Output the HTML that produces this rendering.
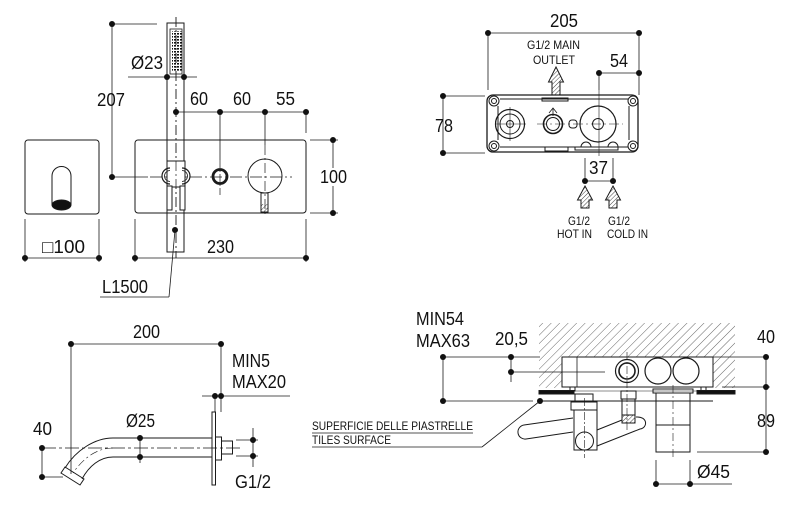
<!DOCTYPE html>
<html><head><meta charset="utf-8"><style>
html,body{margin:0;padding:0;background:#fff;}
svg{display:block;}
text{font-family:"Liberation Sans",Arial,sans-serif;fill:#111;}
</style></head><body>
<svg width="798" height="528" viewBox="0 0 798 528" xmlns="http://www.w3.org/2000/svg">
<defs>
<pattern id="h" width="3" height="3" patternUnits="userSpaceOnUse" patternTransform="rotate(45)">
<line x1="0" y1="0" x2="0" y2="3" stroke="#444" stroke-width="1"/>
</pattern>
<pattern id="w" width="6" height="6" patternUnits="userSpaceOnUse" patternTransform="rotate(45)">
<line x1="0" y1="0" x2="0" y2="6" stroke="#555" stroke-width="0.9"/>
</pattern>
<pattern id="g" width="3" height="3" patternUnits="userSpaceOnUse">
<rect x="0" y="0" width="2" height="1.6" fill="#111"/>
</pattern>
</defs>

<g fill="none" stroke="#1a1a1a" stroke-width="1">
<rect x="25" y="140" width="74" height="74" rx="3"/>
<path d="M52,205 L52,176 A9.5,9.5 0 0 1 71,176 L71,205"/>
<ellipse cx="61.5" cy="205" rx="9.5" ry="5" fill="#111"/>
<line x1="25" y1="219" x2="25" y2="262" stroke-width="0.8"/>
<line x1="99" y1="219" x2="99" y2="262" stroke-width="0.8"/>
<line x1="25" y1="258" x2="99" y2="258" stroke-width="0.8"/>

<rect x="135" y="140" width="171" height="73" rx="3"/>
<line x1="135" y1="219" x2="135" y2="262" stroke-width="0.8"/>
<line x1="306" y1="219" x2="306" y2="262" stroke-width="0.8"/>
<line x1="135" y1="258" x2="306" y2="258" stroke-width="0.8"/>

<line x1="112" y1="24" x2="112" y2="177" stroke-width="0.8"/>
<line x1="112" y1="24" x2="157" y2="24" stroke-width="0.8"/>
<line x1="112" y1="177" x2="148" y2="177" stroke-width="0.8"/>
<line x1="150" y1="177" x2="292" y2="177" stroke-width="0.7" stroke-dasharray="12 3 2 3"/>

<rect x="167" y="23" width="17" height="229"/>
<rect x="170" y="29" width="12" height="45" stroke-width="0.8"/>
<rect x="172" y="31" width="10" height="41" fill="url(#g)" stroke="none"/>
<line x1="176" y1="17" x2="176" y2="258" stroke-width="0.7" stroke-dasharray="10 3 2 3"/>
<line x1="128" y1="77" x2="197" y2="77" stroke-width="0.8"/>

<rect x="167" y="161" width="18" height="26" fill="#fff"/>
<path d="M170,168 A8,8 0 0 0 170,184" stroke-width="1.2"/>
<path d="M170,170.5 A5.5,5.5 0 0 0 170,181.5" stroke-width="0.8"/>
<path d="M182,168 A8,8 0 0 1 182,184" stroke-width="1.2"/>
<path d="M182,170.5 A5.5,5.5 0 0 1 182,181.5" stroke-width="0.8"/>
<rect x="167" y="186" width="5" height="24" fill="#fff"/>
<rect x="180" y="186" width="5" height="24" fill="#fff"/>
<line x1="176" y1="17" x2="176" y2="258" stroke-width="0.7" stroke-dasharray="10 3 2 3"/>

<line x1="176" y1="112" x2="306" y2="112" stroke-width="0.8"/>
<line x1="220" y1="112" x2="220" y2="160" stroke-width="0.8"/>
<line x1="265" y1="112" x2="265" y2="145" stroke-width="0.8"/>
<line x1="306" y1="112" x2="306" y2="133" stroke-width="0.8"/>

<circle cx="220" cy="176.5" r="7" stroke-width="2.8"/>
<line x1="220" y1="160" x2="220" y2="195" stroke-width="0.7" stroke-dasharray="8 2 2 2"/>
<circle cx="265" cy="176" r="17"/>
<rect x="261" y="193" width="7" height="19"/>
<rect x="261.5" y="204" width="6" height="8" fill="url(#h)" stroke="none"/>
<line x1="265" y1="145" x2="265" y2="217" stroke-width="0.7" stroke-dasharray="10 3 2 3"/>

<line x1="310" y1="140" x2="338" y2="140" stroke-width="0.8"/>
<line x1="310" y1="213" x2="338" y2="213" stroke-width="0.8"/>
<line x1="333" y1="140" x2="333" y2="213" stroke-width="0.8"/>

<line x1="175" y1="230" x2="169" y2="297" stroke-width="0.8"/>
<line x1="100" y1="297" x2="169" y2="297" stroke-width="0.8"/>

<line x1="488" y1="33" x2="639" y2="33" stroke-width="0.8"/>
<line x1="488" y1="33" x2="488" y2="90" stroke-width="0.8"/>
<line x1="639" y1="33" x2="639" y2="95" stroke-width="0.8"/>
<line x1="599" y1="73" x2="639" y2="73" stroke-width="0.8"/>
<line x1="599" y1="73" x2="599" y2="90" stroke-width="0.8"/>
<line x1="443" y1="96" x2="443" y2="153" stroke-width="0.8"/>
<line x1="443" y1="96" x2="485" y2="96" stroke-width="0.8"/>
<line x1="443" y1="153" x2="485" y2="153" stroke-width="0.8"/>

<rect x="487" y="95" width="151" height="57" rx="6" stroke-width="1.3"/>
<path d="M500,99 H628 M500,147 H628 M498,106 V140 M629,106 V140" stroke-width="1"/>
<circle cx="494" cy="101" r="5"/><circle cx="494" cy="101" r="2.5"/>
<circle cx="633" cy="101" r="5"/><circle cx="633" cy="101" r="2.5"/>
<circle cx="494" cy="146" r="5"/><circle cx="494" cy="146" r="2.5"/>
<circle cx="633" cy="146" r="5"/><circle cx="633" cy="146" r="2.5"/>
<rect x="542" y="98" width="26" height="3"/>
<rect x="545" y="147" width="23" height="4"/>
<rect x="575" y="147" width="43" height="3"/>
<circle cx="510" cy="124" r="14.5" stroke-width="1.2"/>
<circle cx="510" cy="124" r="10"/>
<circle cx="510" cy="124" r="3.5"/>
<path d="M499,114 A16,16 0 0 0 499,134" stroke-width="1"/>
<line x1="510" y1="107" x2="510" y2="141" stroke-width="0.6"/>
<line x1="495" y1="124" x2="526" y2="124" stroke-width="0.6"/>
<circle cx="553" cy="124" r="9.5" stroke-width="1.6"/>
<circle cx="553" cy="124" r="6.5"/>
<path d="M549,113 L553,108 L557,113 M553,108 V116" stroke-width="0.8"/>
<rect x="569" y="120" width="8" height="8" rx="3"/>
<circle cx="598" cy="124" r="18" stroke-width="1.2"/>
<circle cx="598" cy="124" r="5.5"/>
<path d="M581,147 A5,5 0 0 1 591,147 M608,147 A5,5 0 0 1 618,147" stroke-width="1"/>
<line x1="537" y1="124" x2="623" y2="124" stroke-width="0.6" stroke-dasharray="10 3 2 3"/>
<line x1="599" y1="90" x2="599" y2="156" stroke-width="0.6"/>
<path d="M556,67 L563.5,82 L560,82 L560,95 L552,95 L552,82 L548.5,82 Z" fill="url(#h)"/>
<path d="M585,186 L592.5,200 L589,200 L589,208 L581,208 L581,200 L577.5,200 Z" fill="url(#h)"/>
<path d="M613,186 L620.5,200 L617,200 L617,208 L609,208 L609,200 L605.5,200 Z" fill="url(#h)"/>
<line x1="585" y1="181" x2="613" y2="181" stroke-width="0.8"/>
<line x1="585" y1="158" x2="585" y2="181" stroke-width="0.8"/>
<line x1="613" y1="158" x2="613" y2="181" stroke-width="0.8"/>

<line x1="71" y1="344" x2="221" y2="344" stroke-width="0.8"/>
<line x1="71" y1="344" x2="71" y2="474" stroke-width="0.8"/>
<line x1="221" y1="344" x2="221" y2="412" stroke-width="0.8"/>
<line x1="202" y1="396" x2="290" y2="396" stroke-width="0.8"/>
<line x1="215" y1="396" x2="215" y2="412" stroke-width="0.8"/>
<rect x="212" y="412" width="3.5" height="73"/>
<rect x="215.5" y="437" width="6" height="23"/>
<rect x="221.5" y="441" width="11" height="13"/>
<line x1="113" y1="438" x2="212" y2="438"/>
<line x1="113" y1="457" x2="212" y2="457"/>
<path d="M113,438 C95,438 76,450 65,468"/>
<path d="M113,457 C100,457 89,466 82,479"/>
<path d="M65,467 L84,479 L80,485 L61,473 Z"/>
<line x1="42" y1="448" x2="240" y2="448" stroke-width="0.7" stroke-dasharray="14 3 3 3"/>
<path d="M113,448 C98,448 84,457 73,473" stroke-width="0.6" stroke-dasharray="8 3 2 3"/>
<line x1="140" y1="435" x2="140" y2="463" stroke-width="0.8"/>
<line x1="42" y1="448" x2="42" y2="477" stroke-width="0.8"/>
<line x1="42" y1="477" x2="63" y2="477" stroke-width="0.8"/>
<line x1="253" y1="428" x2="253" y2="467" stroke-width="0.8"/>
<line x1="236" y1="440" x2="258" y2="440" stroke-width="0.8"/>
<line x1="236" y1="456" x2="258" y2="456" stroke-width="0.8"/>

<path d="M539,323 H735 V388 H539 Z M562,357 H713 V388 H562 Z" fill="url(#w)" fill-rule="evenodd" stroke="none"/>
<rect x="562" y="357" width="151" height="30" fill="#fff"/>
<line x1="577" y1="357" x2="577" y2="387" stroke-width="0.8"/>
<circle cx="627" cy="371" r="11.5" stroke-width="1.2"/>
<circle cx="627" cy="371" r="8" stroke-width="1.6"/>
<circle cx="658" cy="371" r="13" stroke-width="1.2"/>
<circle cx="686" cy="371" r="13" stroke-width="1.2"/>
<rect x="570" y="387" width="5" height="4"/>
<rect x="701" y="387" width="5" height="4"/>
<rect x="539" y="390.5" width="35" height="3.5" fill="#111"/>
<rect x="697" y="390.5" width="38" height="3.5" fill="#111"/>
<line x1="574" y1="391" x2="697" y2="391" stroke-width="0.6"/>
<line x1="539" y1="401" x2="713" y2="401" stroke-width="0.9"/>
<line x1="443" y1="357" x2="443" y2="401" stroke-width="0.8"/>
<line x1="443" y1="357" x2="540" y2="357" stroke-width="0.8"/>
<line x1="443" y1="401" x2="533" y2="401" stroke-width="0.8"/>
<line x1="511" y1="357" x2="511" y2="382" stroke-width="0.8"/>
<line x1="511" y1="372" x2="605" y2="372" stroke-width="0.8"/>
<line x1="766" y1="357" x2="766" y2="452" stroke-width="0.8"/>
<line x1="712" y1="357" x2="766" y2="357" stroke-width="0.8"/>
<line x1="722" y1="387" x2="770" y2="387" stroke-width="0.8"/>
<line x1="697" y1="452" x2="766" y2="452" stroke-width="0.8"/>
<rect x="575" y="394" width="18" height="7"/>
<rect x="571" y="402" width="26" height="8"/>
<path d="M573,418 L524,425 A7,7 0 0 0 526,439 L573,432"/>
<path d="M597,430 L622,420 M636,417 C648,416 648,428 640,429 L597,446"/>
<rect x="574" y="410" width="23" height="40" fill="#fff"/>
<circle cx="584.5" cy="441" r="9"/>
<line x1="584.5" y1="398" x2="584.5" y2="458" stroke-width="0.6" stroke-dasharray="8 2 2 2"/>
<rect x="621" y="391" width="15" height="8"/>
<rect x="622" y="399" width="13" height="16"/>
<rect x="622" y="415" width="13" height="8" fill="url(#h)"/>
<line x1="627" y1="352" x2="627" y2="430" stroke-width="0.6" stroke-dasharray="8 2 2 2"/>
<rect x="653" y="389" width="40" height="4"/>
<rect x="656" y="393" width="34" height="32"/>
<rect x="656" y="425" width="34" height="27"/>
<line x1="673" y1="385" x2="673" y2="460" stroke-width="0.6" stroke-dasharray="8 3 2 3"/>
<line x1="656" y1="484" x2="732" y2="484" stroke-width="0.8"/>
<line x1="656" y1="460" x2="656" y2="484" stroke-width="0.8"/>
<line x1="690" y1="460" x2="690" y2="484" stroke-width="0.8"/>
<line x1="540" y1="401" x2="482" y2="447" stroke-width="0.8"/>
<line x1="312" y1="447" x2="482" y2="447" stroke-width="0.8"/>
<line x1="312" y1="433" x2="473" y2="433" stroke-width="0.8"/>
</g>

<g fill="#111">
<circle cx="112" cy="24" r="3"/><circle cx="112" cy="177" r="3"/>
<circle cx="167" cy="77" r="3"/><circle cx="184" cy="77" r="3"/>
<circle cx="176" cy="112" r="3"/><circle cx="220" cy="112" r="3"/><circle cx="265" cy="112" r="3"/><circle cx="306" cy="112" r="3"/>
<circle cx="333" cy="140" r="3"/><circle cx="333" cy="213" r="3"/>
<circle cx="25" cy="258" r="3"/><circle cx="99" cy="258" r="3"/>
<circle cx="135" cy="258" r="3"/><circle cx="306" cy="258" r="3"/>
<circle cx="175" cy="230" r="3"/>
<circle cx="488" cy="33" r="3"/><circle cx="639" cy="33" r="3"/>
<circle cx="599" cy="73" r="3"/><circle cx="639" cy="73" r="3"/>
<circle cx="443" cy="96" r="3"/><circle cx="443" cy="153" r="3"/>
<circle cx="585" cy="181" r="3"/><circle cx="613" cy="181" r="3"/>
<circle cx="71" cy="344" r="3"/><circle cx="221" cy="344" r="3"/>
<circle cx="215" cy="396" r="3"/><circle cx="221" cy="396" r="3"/>
<circle cx="140" cy="438" r="3"/><circle cx="140" cy="457" r="3"/>
<circle cx="42" cy="448" r="3"/><circle cx="42" cy="477" r="3"/>
<circle cx="253" cy="440" r="3"/><circle cx="253" cy="456" r="3"/>
<circle cx="443" cy="357" r="3"/><circle cx="443" cy="401" r="3"/>
<circle cx="511" cy="357" r="3"/><circle cx="511" cy="372" r="3"/>
<circle cx="766" cy="357" r="3"/><circle cx="766" cy="387" r="3"/><circle cx="766" cy="452" r="3"/>
<circle cx="656" cy="484" r="3"/><circle cx="690" cy="484" r="3"/>
<circle cx="540" cy="401" r="3"/>
</g>

<g font-size="18">
<text x="97" y="106" textLength="28" lengthAdjust="spacingAndGlyphs">207</text>
<text x="131" y="69" textLength="32" lengthAdjust="spacingAndGlyphs">Ø23</text>
<text x="190" y="105" textLength="18" lengthAdjust="spacingAndGlyphs">60</text>
<text x="233" y="105" textLength="18" lengthAdjust="spacingAndGlyphs">60</text>
<text x="276" y="105" textLength="19" lengthAdjust="spacingAndGlyphs">55</text>
<rect x="318" y="168" width="30" height="18" fill="#fff"/>
<text x="320" y="183" textLength="27" lengthAdjust="spacingAndGlyphs">100</text>
<text x="42" y="253" textLength="43" lengthAdjust="spacingAndGlyphs">□100</text>
<text x="207" y="253" textLength="27" lengthAdjust="spacingAndGlyphs">230</text>
<text x="102" y="293" textLength="46" lengthAdjust="spacingAndGlyphs">L1500</text>
<text x="550" y="27" textLength="28" lengthAdjust="spacingAndGlyphs">205</text>
<text x="610" y="67" textLength="18" lengthAdjust="spacingAndGlyphs">54</text>
<text x="435" y="132" textLength="18" lengthAdjust="spacingAndGlyphs">78</text>
<text x="589" y="174" textLength="19" lengthAdjust="spacingAndGlyphs">37</text>
<text x="133" y="338" textLength="27" lengthAdjust="spacingAndGlyphs">200</text>
<text x="232" y="367" textLength="38" lengthAdjust="spacingAndGlyphs">MIN5</text>
<text x="232" y="388" textLength="54" lengthAdjust="spacingAndGlyphs">MAX20</text>
<text x="33" y="435" textLength="19" lengthAdjust="spacingAndGlyphs">40</text>
<text x="126" y="427" textLength="29" lengthAdjust="spacingAndGlyphs">Ø25</text>
<text x="235" y="488" textLength="36" lengthAdjust="spacingAndGlyphs">G1/2</text>
<text x="416" y="325" textLength="48" lengthAdjust="spacingAndGlyphs">MIN54</text>
<text x="416" y="347" textLength="54" lengthAdjust="spacingAndGlyphs">MAX63</text>
<text x="495" y="345" textLength="33" lengthAdjust="spacingAndGlyphs">20,5</text>
<text x="757" y="343" textLength="18" lengthAdjust="spacingAndGlyphs">40</text>
<text x="757" y="427" textLength="18" lengthAdjust="spacingAndGlyphs">89</text>
<text x="697" y="478" textLength="33" lengthAdjust="spacingAndGlyphs">Ø45</text>
</g>
<g font-size="12">
<text x="527" y="49" textLength="53" lengthAdjust="spacingAndGlyphs">G1/2  MAIN</text>
<text x="533" y="64" textLength="42" lengthAdjust="spacingAndGlyphs">OUTLET</text>
<text x="568" y="225" textLength="22" lengthAdjust="spacingAndGlyphs">G1/2</text>
<text x="557" y="238" textLength="35" lengthAdjust="spacingAndGlyphs">HOT IN</text>
<text x="608" y="225" textLength="22" lengthAdjust="spacingAndGlyphs">G1/2</text>
<text x="607" y="238" textLength="41" lengthAdjust="spacingAndGlyphs">COLD IN</text>
<text x="312" y="430" textLength="161" lengthAdjust="spacingAndGlyphs">SUPERFICIE DELLE PIASTRELLE</text>
<text x="312" y="444" textLength="79" lengthAdjust="spacingAndGlyphs">TILES SURFACE</text>
</g>
</svg>
</body></html>
